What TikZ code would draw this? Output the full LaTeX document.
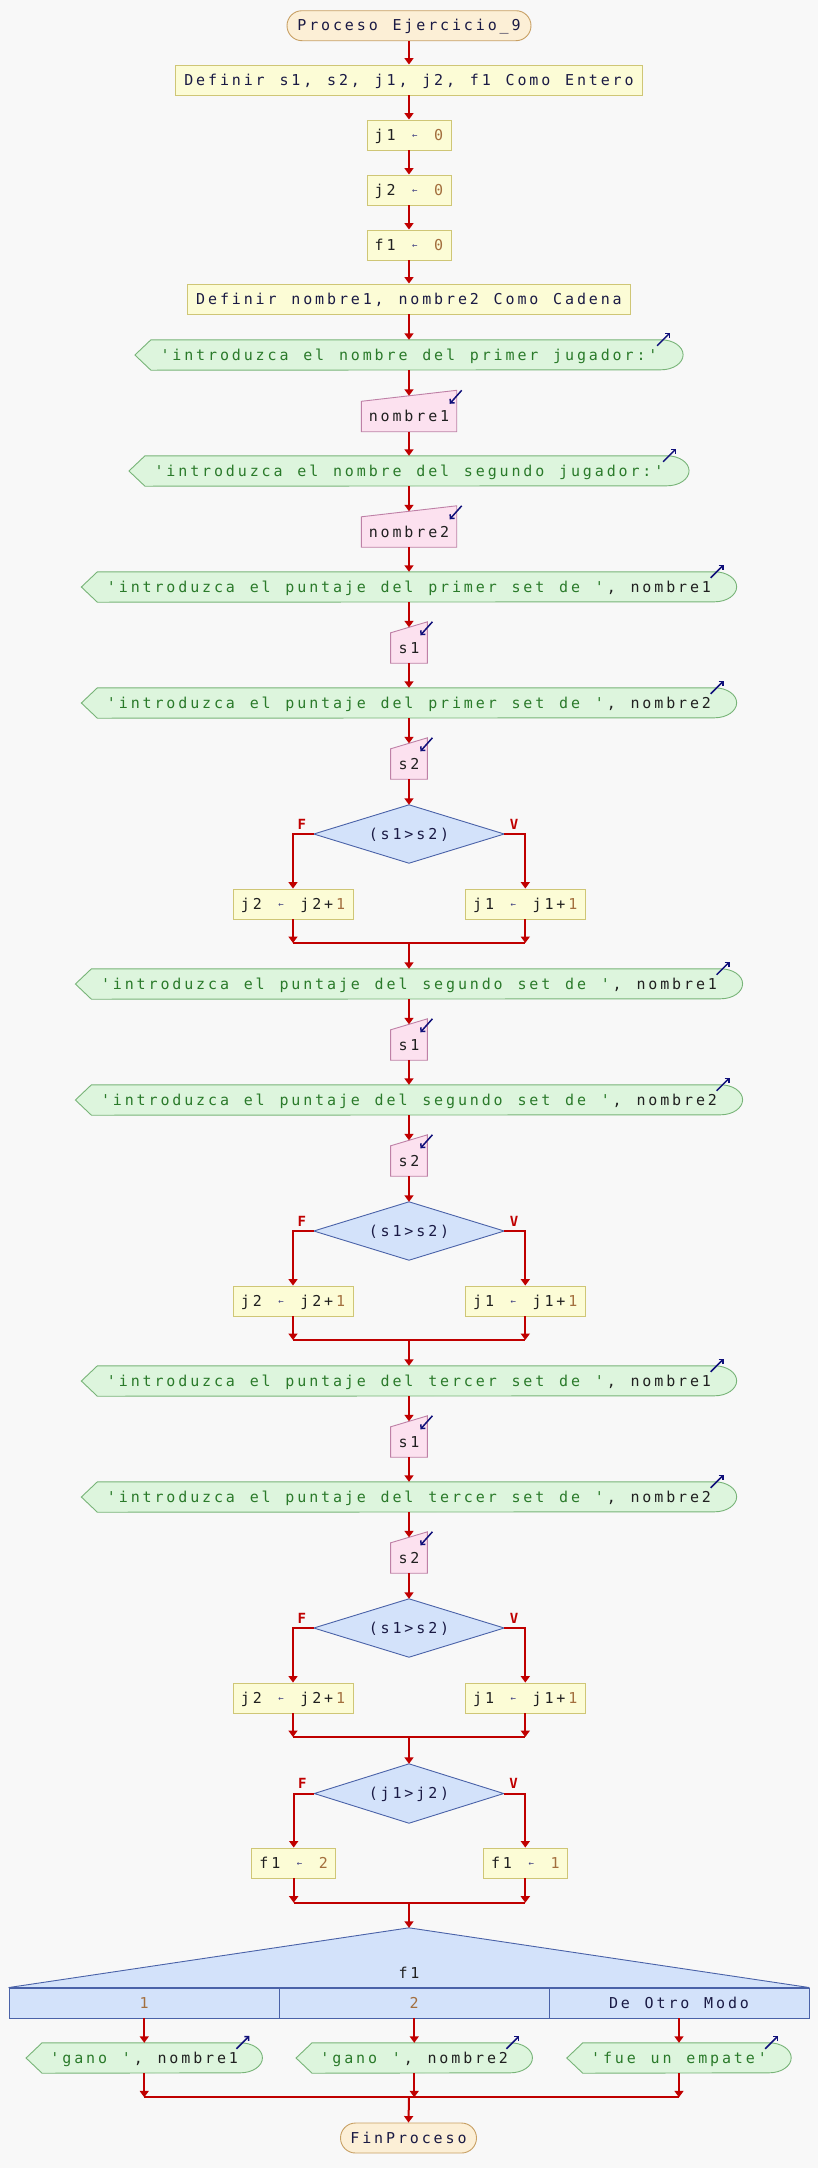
\documentclass[tikz,border=0pt]{standalone}
\usepackage{fontspec}
\setmonofont{DejaVu Sans Mono}
\usepackage{graphicx}
\usetikzlibrary{arrows.meta,calc,backgrounds}
\newlength\chw \setlength\chw{11.9pt}
\ExplSyntaxOn
\NewDocumentCommand \mt { m } { \str_map_inline:nn {#1} { \makebox[\chw]{##1} } }
\ExplSyntaxOff
\definecolor{bgc}{HTML}{F8F8F8}
\definecolor{termf}{HTML}{FCEFD6}
\definecolor{termb}{HTML}{C8A064}
\definecolor{procf}{HTML}{FCFCD6}
\definecolor{procb}{HTML}{CFC676}
\definecolor{outf}{HTML}{DDF5DD}
\definecolor{outb}{HTML}{78B478}
\definecolor{inf}{HTML}{FCE1EF}
\definecolor{inb}{HTML}{BE80A6}
\definecolor{decf}{HTML}{D3E2FA}
\definecolor{decb}{HTML}{4A62A8}
\definecolor{flow}{HTML}{C00000}
\definecolor{icoc}{HTML}{10107A}
\definecolor{kwc}{HTML}{1A1A44}
\definecolor{varc}{HTML}{202020}
\definecolor{strc}{HTML}{2A7A2A}
\definecolor{numc}{HTML}{A36F3E}
\definecolor{asgc}{HTML}{3A3A80}
\newcommand\asg{\makebox[\chw]{\textcolor{asgc}{\raisebox{1.6pt}{\scalebox{0.6}{←}}}}}
\newcommand\nmb[1]{\textcolor{numc}{\mt{#1}}}
\newcommand\str[1]{\textcolor{strc}{\mt{#1}}}
\newcommand\outsh[1]{\path[outshape] (#1.west) -- ($(#1.north west)+(16,0)$) -- ($(#1.north east)+(-22,0)$) arc[start angle=90,end angle=-90,x radius=22pt,y radius=15pt] -- ($(#1.south west)+(16,0)$) -- cycle;
  \draw[ico] ($(#1.north east)+(-26,6)$) -- ($(#1.north east)+(-13,-7)$);}
\newcommand\insh[1]{\path[inshape] (#1.south west) -- (#1.north west) -- ($(#1.north east)+(0,-11)$) -- (#1.south east) -- cycle;
  \draw[ico] ($(#1.north east)+(5,-11)$) -- ($(#1.north east)+(-7,2.5)$);}
\newcommand\decsh[1]{\path[decshape] (#1.west) -- (#1.north) -- (#1.east) -- (#1.south) -- cycle;}
\tikzset{
 nbase/.style={font=\ttfamily\fontsize{15}{18}\selectfont, inner sep=0pt, minimum height=30pt, text height=12pt, text depth=2pt},
 term/.style={nbase, draw=termb, fill=termf, rounded corners=15pt, line width=0.9pt, text=kwc},
 proc/.style={nbase, draw=procb, fill=procf, line width=0.9pt, text=varc},
 outn/.style={nbase, text=varc},
 inn/.style={nbase, text=varc},
 decn/.style={nbase, minimum height=58pt, minimum width=190pt, text=kwc},
 casen/.style={nbase, draw=decb, fill=decf, line width=0.9pt},
 outshape/.style={draw=outb, fill=outf, line width=0.9pt},
 inshape/.style={draw=inb, fill=inf, line width=0.9pt},
 decshape/.style={draw=decb, fill=decf, line width=0.9pt},
 arr/.style={draw=flow, line width=2pt, -{Triangle[length=6.5pt,width=9pt]}},
 flowline/.style={draw=flow, line width=2pt},
 ico/.style={draw=icoc, line width=1.5pt, -{Straight Barb[length=3pt,width=6pt]}},
 fv/.style={text=flow, font=\ttfamily\bfseries\fontsize{14}{16}\selectfont, inner sep=0pt},
}
\begin{document}
\begin{tikzpicture}[x=1pt,y=-1pt]
\useasboundingbox (0,0) rectangle (818,2168);
% ---- top sequence
\node[term, minimum width=244pt] (start) at (409,25.7) {\mt{Proceso Ejercicio_9}};
\node[proc, minimum width=467pt, text=kwc] (def1) at (409,80) {\mt{Definir s1, s2, j1, j2, f1 Como Entero}};
\node[proc, minimum width=84pt] (a1) at (409,135) {\mt{j1 }\asg\mt{ }\nmb{0}};
\node[proc, minimum width=84pt] (a2) at (409,190) {\mt{j2 }\asg\mt{ }\nmb{0}};
\node[proc, minimum width=84pt] (a3) at (409,245) {\mt{f1 }\asg\mt{ }\nmb{0}};
\node[proc, minimum width=443.5pt, text=kwc] (def2) at (409,299) {\mt{Definir nombre1, nombre2 Como Cadena}};
\node[outn, minimum width=547.8pt] (o1) at (409,355) {\str{'introduzca el nombre del primer jugador:'}};
\node[inn, minimum width=95pt] (i1) at (409,416.5) {\mt{nombre1}};
\node[outn, minimum width=559.7pt] (o2) at (409,471) {\str{'introduzca el nombre del segundo jugador:'}};
\node[inn, minimum width=95pt] (i2) at (409,532) {\mt{nombre2}};
% ---- section 1
\node[outn, minimum width=654.9pt] (o3) at (409,587) {\str{'introduzca el puntaje del primer set de '}\mt{, nombre1}};
\node[inn, minimum width=36.4pt] (i3) at (409,648) {\mt{s1}};
\node[outn, minimum width=654.9pt] (o4) at (409,703) {\str{'introduzca el puntaje del primer set de '}\mt{, nombre2}};
\node[inn, minimum width=36.4pt] (i4) at (409,764) {\mt{s2}};
\node[decn] (d1) at (409,834) {\mt{(s1>s2)}};
\node[proc, minimum width=120pt] (l1) at (293,904) {\mt{j2 }\asg\mt{ j2+}\nmb{1}};
\node[proc, minimum width=120.5pt] (r1) at (525.3,904) {\mt{j1 }\asg\mt{ j1+}\nmb{1}};
\coordinate (m1) at (409,943);
% ---- section 2
\node[outn, minimum width=666.8pt] (o5) at (409,984) {\str{'introduzca el puntaje del segundo set de '}\mt{, nombre1}};
\node[inn, minimum width=36.4pt] (i5) at (409,1045) {\mt{s1}};
\node[outn, minimum width=666.8pt] (o6) at (409,1100) {\str{'introduzca el puntaje del segundo set de '}\mt{, nombre2}};
\node[inn, minimum width=36.4pt] (i6) at (409,1161) {\mt{s2}};
\node[decn] (d2) at (409,1231) {\mt{(s1>s2)}};
\node[proc, minimum width=120pt] (l2) at (293,1301) {\mt{j2 }\asg\mt{ j2+}\nmb{1}};
\node[proc, minimum width=120.5pt] (r2) at (525.3,1301) {\mt{j1 }\asg\mt{ j1+}\nmb{1}};
\coordinate (m2) at (409,1340);
% ---- section 3
\node[outn, minimum width=654.9pt] (o7) at (409,1381) {\str{'introduzca el puntaje del tercer set de '}\mt{, nombre1}};
\node[inn, minimum width=36.4pt] (i7) at (409,1442) {\mt{s1}};
\node[outn, minimum width=654.9pt] (o8) at (409,1497) {\str{'introduzca el puntaje del tercer set de '}\mt{, nombre2}};
\node[inn, minimum width=36.4pt] (i8) at (409,1558) {\mt{s2}};
\node[decn] (d3) at (409,1628) {\mt{(s1>s2)}};
\node[proc, minimum width=120pt] (l3) at (293,1698) {\mt{j2 }\asg\mt{ j2+}\nmb{1}};
\node[proc, minimum width=120.5pt] (r3) at (525.3,1698) {\mt{j1 }\asg\mt{ j1+}\nmb{1}};
\coordinate (m3) at (409,1737);
% ---- final decision
\node[decn, minimum width=189pt, minimum height=59pt] (d4) at (409,1793.5) {\mt{(j1>j2)}};
\node[proc, minimum width=84pt] (l4) at (293.7,1863) {\mt{f1 }\asg\mt{ }\nmb{2}};
\node[proc, minimum width=84.7pt] (r4) at (525.3,1863) {\mt{f1 }\asg\mt{ }\nmb{1}};
\coordinate (m4) at (409,1902.7);
% ---- switch
\node[nbase, minimum width=800pt, minimum height=90pt, text=varc] (sw) at (409,1973) {\mt{f1}};
\node[casen, minimum width=270.5pt] (c1) at (144.25,2003) {\nmb{1}};
\node[casen, minimum width=269.5pt] (c2) at (414.25,2003) {\nmb{2}};
\node[casen, minimum width=260pt, text=kwc] (c3) at (679,2003) {\mt{De Otro Modo}};
\node[outn, minimum width=236pt] (g1) at (144.25,2058) {\str{'gano '}\mt{, nombre1}};
\node[outn, minimum width=236pt] (g2) at (414.25,2058) {\str{'gano '}\mt{, nombre2}};
\node[outn, minimum width=224pt] (g3) at (679,2058) {\str{'fue un empate'}};
\coordinate (m5) at (409,2097.3);
\node[term, minimum width=136pt] (fin) at (408.5,2138) {\mt{FinProceso}};
% ---- F / V labels
\foreach \d in {d1,d2,d3,d4}{
  \node[fv] (\d F) at ($(\d.west)+(-12,-10)$) {F};
  \node[fv] (\d V) at ($(\d.east)+(10,-10)$) {V};
}
% ---- connectors
\draw[arr] (start.south) -- (def1.north);
\draw[arr] (def1.south) -- (a1.north);
\draw[arr] (a1.south) -- (a2.north);
\draw[arr] (a2.south) -- (a3.north);
\draw[arr] (a3.south) -- (def2.north);
\draw[arr] (def2.south) -- (o1.north);
\draw[arr] (o1.south) -- ($(i1.north)+(0,-5.5)$);
\draw[arr] (i1.south) -- (o2.north);
\draw[arr] (o2.south) -- ($(i2.north)+(0,-5.5)$);
\draw[arr] (i2.south) -- (o3.north);
\foreach \oa/\ia/\ob/\ib/\d/\l/\r/\m/\nx in {o3/i3/o4/i4/d1/l1/r1/m1/o5, o5/i5/o6/i6/d2/l2/r2/m2/o7, o7/i7/o8/i8/d3/l3/r3/m3/d4}{
  \draw[arr] (\oa.south) -- ($(\ia.north)+(0,-5.5)$);
  \draw[arr] (\ia.south) -- (\ob.north);
  \draw[arr] (\ob.south) -- ($(\ib.north)+(0,-5.5)$);
  \draw[arr] (\ib.south) -- (\d.north);
  \draw[arr] (\d.west) -| (\l.north);
  \draw[arr] (\d.east) -| (\r.north);
  \draw[arr] (\l.south) -- (\l.south |- \m);
  \draw[arr] (\r.south) -- (\r.south |- \m);
  \draw[flowline] (\l.south |- \m) -- (\r.south |- \m);
  \draw[arr] (\m) -- (\nx.north);
}
\draw[arr] (d4.west) -| (l4.north);
\draw[arr] (d4.east) -| (r4.north);
\draw[arr] (l4.south) -- (l4.south |- m4);
\draw[arr] (r4.south) -- (r4.south |- m4);
\draw[flowline] (l4.south |- m4) -- (r4.south |- m4);
\draw[arr] (m4) -- (sw.north);
\draw[arr] (c1.south) -- (g1.north);
\draw[arr] (c2.south) -- (g2.north);
\draw[arr] (c3.south) -- (g3.north);
\draw[arr] (g1.south) -- (g1.south |- m5);
\draw[arr] (g2.south) -- (g2.south |- m5);
\draw[arr] (g3.south) -- (g3.south |- m5);
\draw[flowline] (g1.south |- m5) -- (g3.south |- m5);
\draw[arr] (m5) -- (fin.north);
% ---- background shapes
\begin{scope}[on background layer]
\fill[bgc] (0,0) rectangle (818,2168);
\foreach \o in {o1,o2,o3,o4,o5,o6,o7,o8,g1,g2,g3}{\outsh{\o}}
\foreach \i in {i1,i2,i3,i4,i5,i6,i7,i8}{\insh{\i}}
\foreach \d in {d1,d2,d3,d4}{\decsh{\d}}
\path[decshape] (sw.north) -- (c3.north east) -- (c1.north west) -- cycle;
\end{scope}
\end{tikzpicture}
\end{document}
